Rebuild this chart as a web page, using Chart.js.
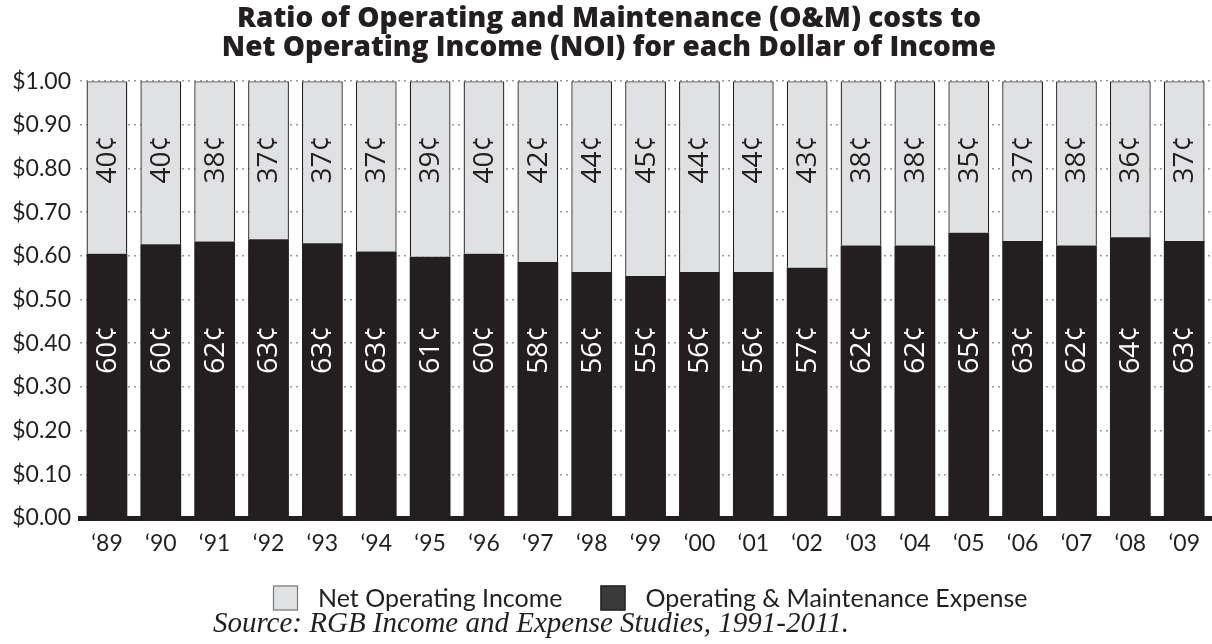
<!DOCTYPE html>
<html>
<head>
<meta charset="utf-8">
<script src="https://cdn.jsdelivr.net/npm/chart.js@4"></script>
<style>
html,body{margin:0;padding:0;background:#fff;overflow:hidden;}
#wrap{width:1212px;height:644px;position:relative;}
</style>
</head>
<body>
<div id="wrap"><canvas id="c" width="1212" height="644"></canvas></div>
<script>
const years = ["\u201889","\u201890","\u201891","\u201892","\u201893","\u201894","\u201895","\u201896","\u201897","\u201898","\u201899","\u201800","\u201801","\u201802","\u201803","\u201804","\u201805","\u201806","\u201807","\u201808","\u201809"];
const omValues  = [0.605,0.627,0.633,0.638,0.629,0.610,0.598,0.605,0.586,0.563,0.554,0.563,0.563,0.573,0.624,0.624,0.653,0.634,0.624,0.643,0.634];
const noiValues = [0.395,0.373,0.367,0.362,0.371,0.390,0.402,0.395,0.414,0.437,0.446,0.437,0.437,0.427,0.376,0.376,0.347,0.366,0.376,0.357,0.366];
const omLabels  = [60,60,62,63,63,63,61,60,58,56,55,56,56,57,62,62,65,63,62,64,63];
const noiLabels = [40,40,38,37,37,37,39,40,42,44,45,44,44,43,38,38,35,37,38,36,37];
const yTicks = [0,0.1,0.2,0.3,0.4,0.5,0.6,0.7,0.8,0.9,1.0];
const titleLines = ["Ratio of Operating and Maintenance (O&M) costs to","Net Operating Income (NOI) for each Dollar of Income"];
const sourceText = "Source: RGB Income and Expense Studies, 1991-2011.";

const INK = '#231f20';
const SANS = 'Lato, "Open Sans", sans-serif';
const WIDE = '"Open Sans", Lato, sans-serif';

const valueLabels = {
  id: 'valueLabels',
  afterDatasetsDraw(chart) {
    const ctx = chart.ctx;
    const y = chart.scales.y;
    const sets = [
      {meta: chart.getDatasetMeta(0), labels: omLabels, pos: 0.385, color: '#ffffff'},
      {meta: chart.getDatasetMeta(1), labels: noiLabels, pos: 0.821, color: INK}
    ];
    ctx.save();
    ctx.font = '28px ' + WIDE;
    ctx.textAlign = 'center';
    ctx.textBaseline = 'middle';
    sets.forEach(s => {
      s.meta.data.forEach((bar, i) => {
        ctx.save();
        ctx.translate(bar.x, y.getPixelForValue(s.pos));
        ctx.rotate(-Math.PI / 2);
        ctx.fillStyle = s.color;
        ctx.fillText(s.labels[i] + '\u00A2', 0, 1);
        ctx.restore();
      });
    });
    ctx.restore();
  }
};

const customLegend = {
  id: 'customLegend',
  afterDraw(chart) {
    const ctx = chart.ctx;
    ctx.save();
    ctx.font = '25px ' + SANS;
    ctx.textBaseline = 'middle';
    const order = [1, 0];
    let x = 273;
    const cy = 598;
    order.forEach(di => {
      const ds = chart.data.datasets[di];
      ctx.fillStyle = ds.legendFill;
      ctx.fillRect(x, cy - 12.5, 25, 25);
      ctx.strokeStyle = ds.legendStroke;
      ctx.lineWidth = 1.2;
      ctx.strokeRect(x + 0.5, cy - 12, 24, 24);
      x += 25 + 20;
      ctx.fillStyle = INK;
      ctx.fillText(ds.label, x, cy + 1);
      x += ctx.measureText(ds.label).width + 38;
    });
    ctx.font = 'italic 29px "Liberation Serif", "Times New Roman", serif';
    ctx.textAlign = 'center';
    ctx.fillStyle = INK;
    ctx.fillText(sourceText, 531, 624);
    ctx.restore();
  }
};

new Chart(document.getElementById('c'), {
  type: 'bar',
  data: {
    labels: years,
    datasets: [
      {label: 'Operating & Maintenance Expense', data: omValues, backgroundColor: INK, borderWidth: 0,
       legendFill: '#3a3a3a', legendStroke: '#1a1a1a'},
      {label: 'Net Operating Income', data: noiValues, backgroundColor: '#e0e1e3', borderColor: INK, borderWidth: 1.3,
       borderSkipped: 'bottom', legendFill: '#e0e1e3', legendStroke: '#777777'}
    ]
  },
  options: {
    responsive: false,
    animation: false,
    devicePixelRatio: 1,
    layout: {padding: {left: 0, right: -6, top: 0, bottom: 80}},
    datasets: {bar: {categoryPercentage: 1, barPercentage: 0.757}},
    plugins: {
      legend: {display: false},
      tooltip: {enabled: false},
      title: {
        display: true,
        text: titleLines,
        color: INK,
        font: {family: WIDE, size: 28, weight: 800, lineHeight: 1.04},
        padding: {top: 4, bottom: 19}
      }
    },
    scales: {
      x: {
        stacked: true,
        grid: {display: false, drawTicks: false},
        border: {display: true, color: INK, width: 5},
        ticks: {color: INK, font: {family: SANS, size: 23}, padding: 12, maxRotation: 0, autoSkip: false},
        afterFit: s => { s.height = 46; }
      },
      y: {
        stacked: true,
        min: 0, max: 1,
        afterBuildTicks: s => { s.ticks = yTicks.map(v => ({value: v})); },
        grid: {color: '#9a9a9a', lineWidth: 1.6, drawTicks: false},
        border: {display: false, dash: [2, 4]},
        ticks: {color: INK, font: {family: SANS, size: 23}, padding: 9,
                callback: v => '$' + Number(v).toFixed(2)},
        afterFit: s => { s.width = 80; }
      }
    }
  },
  plugins: [valueLabels, customLegend]
});
</script>
</body>
</html>
